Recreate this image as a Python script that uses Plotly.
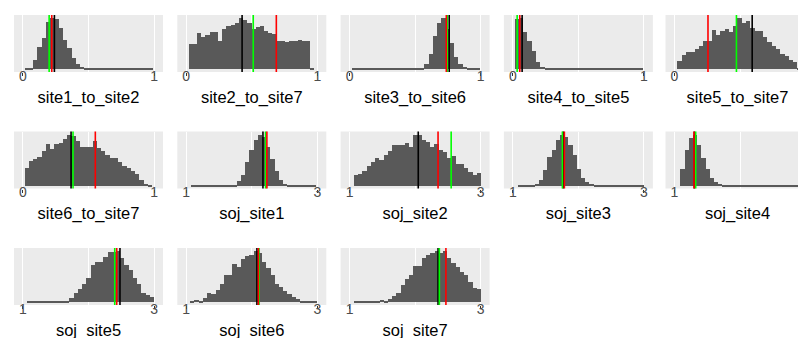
import numpy as np
import plotly.graph_objects as go

# ---------------- data ----------------
panel_names = ["site1_to_site2", "site2_to_site7", "site3_to_site6", "site4_to_site5", "site5_to_site7",
               "site6_to_site7", "soj_site1", "soj_site2", "soj_site3", "soj_site4",
               "soj_site5", "soj_site6", "soj_site7"]

# data range (min, max) of each histogram
bin_ranges = [(0.013, 0.99), (0.02, 0.98), (0.013, 0.99), (0.013, 0.99), (0.018, 0.99),
              (0.013, 0.985), (1.076, 2.99), (1.06, 3.0), (1.075, 3.0), (1.08, 2.99),
              (1.065, 3.0), (1.065, 3.0), (1.065, 3.0)]

# relative counts (30 bins each)
site1_to_site2 = [0.015, 0.02, 0.19, 0.43, 0.60, 0.92, 1.00, 0.97, 0.80, 0.57, 0.41, 0.22, 0.10, 0.04, 0.02,
                  0.015, 0.015, 0.015, 0.015, 0.015, 0.015, 0.015, 0.015, 0.015, 0.015, 0.015, 0.015, 0.015, 0.015, 0.015]
site2_to_site7 = [0.49, 0.49, 0.70, 0.62, 0.67, 0.72, 0.73, 0.54, 0.78, 0.83, 0.86, 0.89, 1.00, 0.96, 0.89,
                  0.78, 0.81, 0.83, 0.75, 0.70, 0.68, 0.54, 0.54, 0.53, 0.54, 0.55, 0.57, 0.55, 0.54, 0.02]
site3_to_site6 = [0.015, 0.015, 0.015, 0.015, 0.015, 0.015, 0.015, 0.015, 0.015, 0.015, 0.015, 0.015, 0.015, 0.015, 0.015,
                  0.015, 0.02, 0.10, 0.29, 0.64, 0.89, 1.00, 0.78, 0.51, 0.24, 0.10, 0.04, 0.02, 0.015, 0.015]
site4_to_site5 = [0.98, 1.00, 0.73, 0.55, 0.35, 0.14, 0.05, 0.015, 0.015, 0.015, 0.015, 0.015, 0.015, 0.015, 0.015,
                  0.015, 0.015, 0.015, 0.015, 0.015, 0.015, 0.015, 0.015, 0.015, 0.015, 0.015, 0.015, 0.015, 0.015, 0.015]
site5_to_site7 = [0.16, 0.27, 0.34, 0.33, 0.39, 0.45, 0.54, 0.54, 0.76, 0.67, 0.75, 0.78, 0.73, 0.83, 1.00,
                  0.90, 0.93, 0.80, 0.74, 0.74, 0.62, 0.52, 0.46, 0.40, 0.30, 0.25, 0.18, 0.15, 0.02, 0.015]
site6_to_site7 = [0.35, 0.50, 0.52, 0.56, 0.69, 0.82, 0.73, 0.81, 0.84, 0.92, 1.00, 0.97, 0.88, 0.77, 0.77,
                  0.77, 0.88, 0.75, 0.69, 0.60, 0.55, 0.55, 0.48, 0.39, 0.35, 0.30, 0.24, 0.13, 0.05, 0.015]
soj_site1 = [0.015, 0.015, 0.015, 0.015, 0.015, 0.015, 0.015, 0.015, 0.015, 0.015, 0.03, 0.10, 0.22, 0.48, 0.70,
             0.90, 1.00, 0.96, 0.77, 0.52, 0.30, 0.13, 0.05, 0.02, 0.015, 0.015, 0.015, 0.015, 0.015, 0.015]
soj_site2 = [0.22, 0.24, 0.29, 0.40, 0.47, 0.54, 0.51, 0.61, 0.69, 0.79, 0.80, 0.79, 0.83, 0.76, 0.99,
             1.00, 0.90, 0.85, 0.76, 0.82, 0.71, 0.66, 0.54, 0.58, 0.44, 0.44, 0.35, 0.28, 0.22, 0.26]
soj_site3 = [0.015, 0.015, 0.015, 0.02, 0.04, 0.12, 0.31, 0.57, 0.71, 0.90, 1.00, 0.95, 0.80, 0.60, 0.33,
             0.17, 0.09, 0.04, 0.02, 0.015, 0.015, 0.015, 0.015, 0.015, 0.015, 0.015, 0.015, 0.015, 0.015, 0.015]
soj_site4 = [0.33, 0.71, 0.94, 1.00, 0.80, 0.55, 0.33, 0.17, 0.08, 0.04, 0.02, 0.015, 0.015, 0.015, 0.015,
             0.015, 0.015, 0.015, 0.015, 0.015, 0.015, 0.015, 0.015, 0.015, 0.015, 0.015, 0.015, 0.015, 0.015, 0.015]
soj_site5 = [0.015, 0.015, 0.015, 0.015, 0.015, 0.015, 0.015, 0.02, 0.015, 0.035, 0.08, 0.19, 0.25, 0.35, 0.47,
             0.73, 0.78, 0.78, 0.88, 0.97, 0.98, 1.00, 0.85, 0.72, 0.62, 0.47, 0.35, 0.19, 0.15, 0.10]
soj_site6 = [0.03, 0.05, 0.03, 0.09, 0.19, 0.17, 0.24, 0.35, 0.52, 0.52, 0.74, 0.68, 0.83, 0.90, 0.91,
             1.00, 0.95, 0.78, 0.66, 0.52, 0.35, 0.30, 0.22, 0.17, 0.10, 0.07, 0.03, 0.02, 0.015, 0.015]
soj_site7 = [0.015, 0.015, 0.015, 0.015, 0.015, 0.015, 0.04, 0.03, 0.07, 0.12, 0.19, 0.34, 0.45, 0.52, 0.71,
             0.71, 0.85, 0.91, 0.95, 1.00, 0.95, 1.00, 0.86, 0.77, 0.68, 0.58, 0.52, 0.40, 0.27, 0.26]

counts = [site1_to_site2, site2_to_site7, site3_to_site6, site4_to_site5, site5_to_site7,
          site6_to_site7, soj_site1, soj_site2, soj_site3, soj_site4, soj_site5, soj_site6, soj_site7]

# reference lines
black_vals = [0.24, 0.426, 0.76, 0.071, 0.587, 0.367, 2.17, 2.048, 1.77, 1.30, 2.48, 2.078, 2.35]
green_vals = [0.20, 0.511, 0.745, 0.033, 0.468, 0.382, 2.21, 2.55, 1.756, 1.32, 2.40, 2.11, 2.37]
red_vals = [0.22, 0.687, 0.738, 0.053, 0.253, 0.552, 2.23, 2.35, 1.786, 1.295, 2.43, 2.10, 2.47]

# axis breaks
prop_ticks = [0, 1]
prop_minor = [0.5]
soj_ticks = [1, 3]
soj_minor = [2]

# ---------------- layout ----------------
W_FIG, H_FIG = 806, 338
col_left = [6, 169.3, 332.6, 495.9, 657.5]
col_width = [149, 149, 149, 149, 144]
row_top = [7, 123.5, 240]
panel_h = 57

fig = go.Figure()
layout = dict(
    template="none",
    width=W_FIG, height=H_FIG, margin=dict(l=0, r=0, t=0, b=0, autoexpand=False),
    paper_bgcolor="white", plot_bgcolor="#EBEBEB", showlegend=False, bargap=0,
    font=dict(family="Liberation Sans, Arial, sans-serif"),
)
shapes = []

for i, name in enumerate(panel_names):
    r, c = divmod(i, 5)
    n = i + 1
    xa = "x" if n == 1 else f"x{n}"
    ya = "y" if n == 1 else f"y{n}"
    lo, hi = bin_ranges[i]
    edges = np.linspace(lo, hi, len(counts[i]) + 1)
    centers = (edges[:-1] + edges[1:]) / 2
    bw = edges[1] - edges[0]
    fig.add_trace(go.Bar(x=centers, y=counts[i], width=bw, marker=dict(color="#595959", line=dict(width=0)),
                         xaxis=xa, yaxis=ya, hoverinfo="skip"))

    is_soj = name.startswith("soj")
    ticks = soj_ticks if is_soj else prop_ticks
    minor = soj_minor if is_soj else prop_minor
    a, b = ticks
    span = b - a
    right_pad = 0.02 * span if c == 4 else 0.068 * span
    xrange = [a - 0.068 * span, b + right_pad]

    x0 = col_left[c] / W_FIG
    x1 = (col_left[c] + col_width[c]) / W_FIG
    y1 = 1 - row_top[r] / H_FIG
    y0 = 1 - (row_top[r] + panel_h) / H_FIG

    axkey = "xaxis" if n == 1 else f"xaxis{n}"
    aykey = "yaxis" if n == 1 else f"yaxis{n}"
    layout[axkey] = dict(
        domain=[x0, x1], anchor=ya, range=xrange, tickvals=ticks, ticktext=[str(t) for t in ticks],
        automargin=False,
        showgrid=True, gridcolor="white", gridwidth=1.1, zeroline=False, showline=False,
        ticks="outside", ticklen=3, tickwidth=1, tickcolor="#333333",
        tickfont=dict(size=14, color="#4D4D4D"), ticklabelstandoff=-12,
        minor=dict(tickvals=minor, showgrid=True, gridcolor="white", gridwidth=0.6, ticks=""),
        title=dict(text=name, font=dict(size=16.5, color="black"), standoff=8),
        fixedrange=True,
    )
    layout[aykey] = dict(
        domain=[y0, y1], anchor=xa, range=[-0.05, 1.05], showgrid=False, zeroline=False,
        automargin=False,
        showticklabels=False, ticks="", showline=False, fixedrange=True,
    )
    for val, col in ((black_vals[i], "black"), (green_vals[i], "#00FF00"), (red_vals[i], "#FF0000")):
        shapes.append(dict(type="line", xref=xa, yref=f"{ya} domain", x0=val, x1=val, y0=0, y1=1,
                           line=dict(color=col, width=1.6), layer="above"))

layout["shapes"] = shapes
fig.update_layout(**layout)
fig.write_html("out.html")
